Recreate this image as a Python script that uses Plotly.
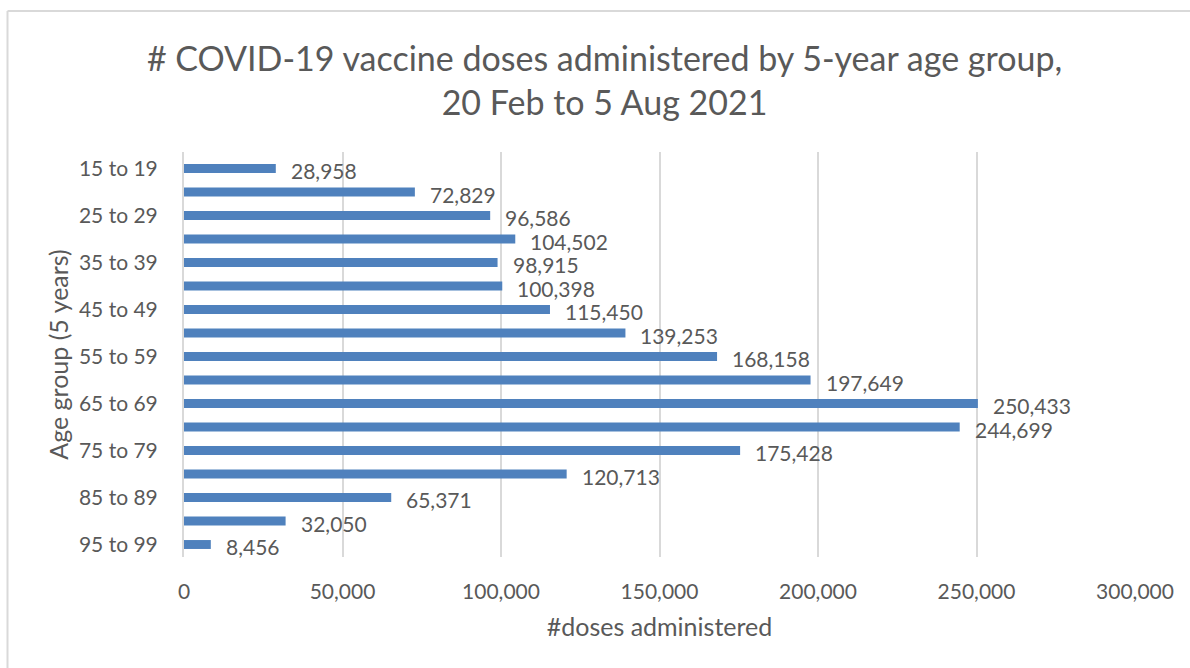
import plotly.graph_objects as go

# Age groups (5-year bands) and doses administered
age_groups = [
    "15 to 19", "20 to 24", "25 to 29", "30 to 34", "35 to 39", "40 to 44",
    "45 to 49", "50 to 54", "55 to 59", "60 to 64", "65 to 69", "70 to 74",
    "75 to 79", "80 to 84", "85 to 89", "90 to 94", "95 to 99",
]
doses = [
    28958, 72829, 96586, 104502, 98915, 100398, 115450, 139253, 168158,
    197649, 250433, 244699, 175428, 120713, 65371, 32050, 8456,
]
shown_age_ticks = age_groups[::2]
x_ticks = [0, 50000, 100000, 150000, 200000, 250000, 300000]

FONT = "Lato, 'Open Sans', sans-serif"
TEXT = "#595959"
GRID = "#D9D9D9"
BAR = "#4F81BD"

fig = go.Figure()
fig.add_trace(go.Bar(
    x=doses,
    y=age_groups,
    orientation="h",
    marker=dict(color=BAR, line=dict(width=0)),
    hoverinfo="x+y",
))

# value labels to the right of each bar
for g, v in zip(age_groups, doses):
    fig.add_annotation(
        x=v, y=g, xref="x", yref="y",
        text=f"{v:,}", showarrow=False,
        xanchor="left", yanchor="middle",
        xshift=13, yshift=-2,
        font=dict(family=FONT, size=21, color=TEXT),
    )

fig.update_layout(
    width=1190, height=668,
    margin=dict(l=184, r=55, t=152, b=111),
    paper_bgcolor="white", plot_bgcolor="white",
    bargap=0.62,
    showlegend=False,
    font=dict(family=FONT, color=TEXT),
    title=dict(
        text="# COVID-19 vaccine doses administered by 5-year age group,<br>20 Feb to 5 Aug 2021",
        x=0.508, xanchor="center", y=0.894, yanchor="top",
        font=dict(family=FONT, size=34, color=TEXT),
    ),
    xaxis=dict(
        range=[0, 300000],
        tickvals=x_ticks,
        ticktext=[f"{t:,}" for t in x_ticks],
        showgrid=True, gridcolor=GRID, gridwidth=2,
        zeroline=False, showline=False, ticks="",
        tickfont=dict(family=FONT, size=21, color=TEXT),
        ticklabelstandoff=20,
        title=dict(text="#doses administered", standoff=16,
                   font=dict(family=FONT, size=25, color=TEXT)),
        fixedrange=True,
    ),
    yaxis=dict(
        categoryorder="array", categoryarray=age_groups,
        autorange="reversed",
        tickvals=shown_age_ticks,
        showgrid=False, zeroline=False,
        showline=True, linecolor=GRID, linewidth=2,
        ticks="", ticklabelstandoff=20,
        tickfont=dict(family=FONT, size=21, color=TEXT),
        title=dict(text="Age group (5 years)", standoff=3,
                   font=dict(family=FONT, size=25, color=TEXT)),
        fixedrange=True,
    ),
)

# chart frame (top and left edges)
fig.add_shape(type="line", xref="paper", yref="paper",
              x0=-0.1856, x1=1.2, y0=1.348, y1=1.348,
              line=dict(color=GRID, width=2))
fig.add_shape(type="line", xref="paper", yref="paper",
              x0=-0.1856, x1=-0.1856, y0=-0.5, y1=1.348,
              line=dict(color=GRID, width=2))

fig.write_html("out.html")
